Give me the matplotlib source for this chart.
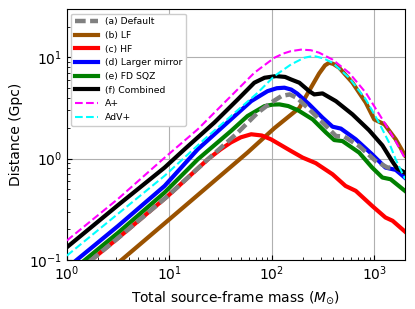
import matplotlib
matplotlib.use("Agg")
import matplotlib.pyplot as plt

# total source-frame mass (Msun) and distance (Gpc)
m_default = [1, 3.16, 9.7, 23.8, 46.6, 73, 98.4, 125, 150, 178, 251, 339, 423, 509, 713, 1035, 1349, 1622, 2000]
d_default = [0.063, 0.164, 0.4285, 0.984, 1.803, 2.838, 3.565, 4.15, 4.3, 3.95, 2.838, 2.094, 1.671, 1.648, 1.33, 0.946, 0.815, 0.815, 0.724]

m_lf = [1, 3.43, 10, 58, 106, 186, 232, 290, 331, 363, 398, 455, 614, 828, 1000, 1259, 1622, 2000]
d_lf = [0.0363, 0.1, 0.251, 1.146, 1.995, 3.162, 4.677, 6.918, 8.318, 8.83, 8.61, 7.89, 5.61, 3.565, 2.438, 2.178, 1.549, 1.072]

m_hf = [1, 3.16, 9.7, 23.8, 31.6, 40, 50, 63, 80, 98.4, 154, 200, 269, 392, 525, 661, 955, 1288, 1514, 2000]
d_hf = [0.063, 0.164, 0.4285, 0.984, 1.23, 1.445, 1.622, 1.738, 1.69, 1.549, 1.189, 1.023, 0.902, 0.70, 0.537, 0.48, 0.341, 0.262, 0.243, 0.19]

m_mirror = [1, 3.16, 9, 19, 40, 63, 91, 112, 133, 155, 178, 232, 313, 392, 473, 661, 955, 1288, 1622, 2000]
d_mirror = [0.083, 0.216, 0.537, 1.236, 2.44, 3.69, 4.63, 4.95, 5.01, 4.8, 4.37, 3.43, 2.535, 2.065, 1.977, 1.549, 1.10, 0.815, 0.773, 0.646]

m_fdsqz = [1, 3.16, 9, 19, 40, 58, 85, 102, 119, 145, 182, 251, 339, 407, 490, 713, 955, 1202, 1445, 2000]
d_fdsqz = [0.0711, 0.185, 0.462, 0.984, 1.871, 2.63, 3.296, 3.41, 3.428, 3.3, 2.985, 2.438, 1.803, 1.524, 1.489, 1.146, 0.815, 0.65, 0.625, 0.479]

m_comb = [1, 3.16, 9, 14.1, 27.5, 46.6, 67.6, 85, 110, 135, 155, 186, 232, 260, 313, 423, 614, 891, 1202, 1507, 1683, 2000]
d_comb = [0.133, 0.347, 0.815, 1.236, 2.265, 3.837, 5.61, 6.28, 6.52, 6.4, 6.03, 5.61, 4.63, 4.30, 4.40, 3.69, 2.73, 1.905, 1.35, 0.933, 0.794, 0.724]

m_aplus = [1, 3.16, 9, 19, 40, 67.6, 106, 130, 154, 193, 240, 290, 392, 569, 828, 1202, 1622, 2000]
d_aplus = [0.155, 0.40, 1.02, 1.95, 4.14, 7.03, 9.89, 10.9, 11.5, 11.9, 11.75, 11.1, 9.5, 7.03, 4.47, 2.44, 1.48, 1.0]

m_advp = [1, 3.16, 9, 22, 40, 73, 106, 154, 207, 235, 269, 320, 392, 569, 828, 1114, 1396, 1622, 2000]
d_advp = [0.11, 0.285, 0.676, 1.55, 2.63, 4.47, 6.52, 8.49, 9.89, 10.15, 10.2, 9.75, 8.83, 6.28, 3.84, 2.26, 1.44, 0.98, 0.63]

fig = plt.figure(figsize=(4.15, 3.09), dpi=100)
ax = fig.add_axes([0.161, 0.159, 0.815, 0.812])

ax.plot(m_default, d_default, color='gray', lw=3.2, dashes=(2.4, 1.0), label='(a) Default', zorder=5)
ax.plot(m_lf, d_lf, color='#9a5200', lw=3, label='(b) LF', zorder=3)
ax.plot(m_hf, d_hf, color='red', lw=3, label='(c) HF', zorder=3)
ax.plot(m_mirror, d_mirror, color='blue', lw=3, label='(d) Larger mirror', zorder=4)
ax.plot(m_fdsqz, d_fdsqz, color='green', lw=3, label='(e) FD SQZ', zorder=4)
ax.plot(m_comb, d_comb, color='black', lw=3, label='(f) Combined', zorder=6)
ax.plot(m_aplus, d_aplus, color='magenta', lw=1.5, ls='--', label='A+', zorder=6)
ax.plot(m_advp, d_advp, color='cyan', lw=1.5, ls='--', label='AdV+', zorder=6)

ax.set_xscale('log')
ax.set_yscale('log')
ax.set_xlim(1, 2000)
ax.set_ylim(0.1, 30)
ax.grid(True, which='major', color='#b0b0b0', lw=0.8)
ax.tick_params(which='both', direction='in', labelsize=10)
ax.set_xlabel(r'Total source-frame mass ($M_{\odot}$)', fontsize=10)
ax.set_ylabel('Distance (Gpc)', fontsize=10)
ax.legend(loc='upper left', fontsize=6.7, handlelength=2.4, framealpha=1.0)

fig.savefig('out.png', dpi=100)
